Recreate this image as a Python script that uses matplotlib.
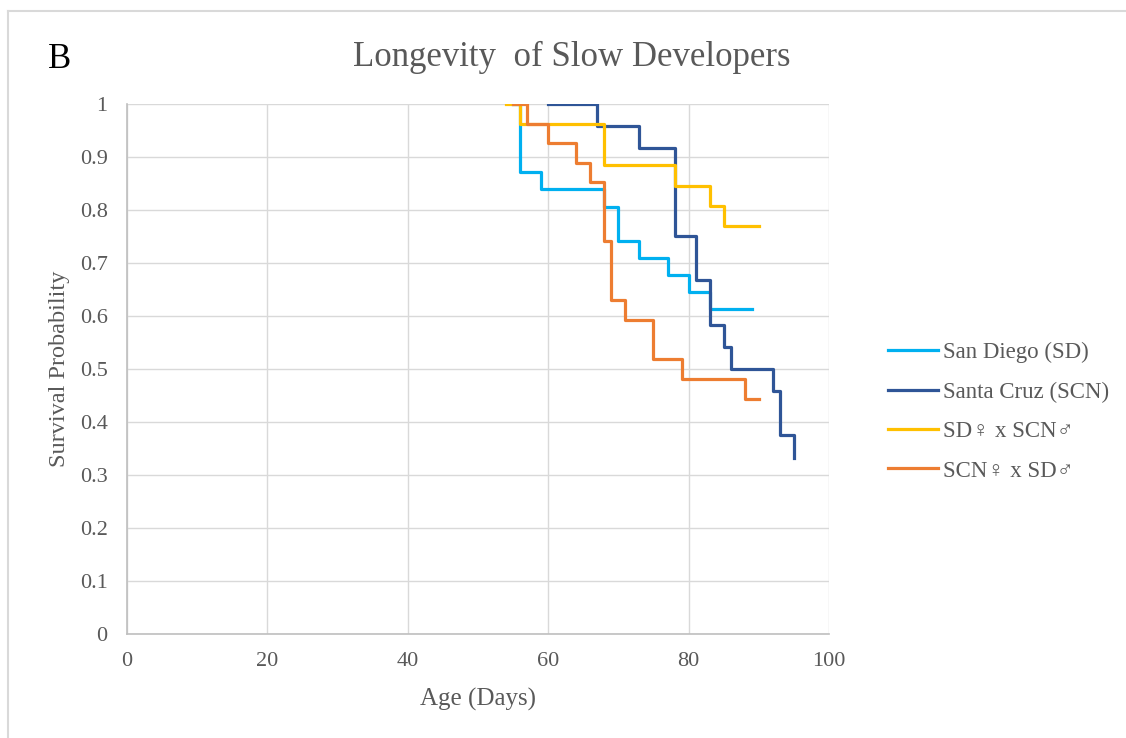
import matplotlib.pyplot as plt
from matplotlib.lines import Line2D

# Kaplan-Meier steps (age in days, survival probability)
sd_days = [55, 56, 59, 68, 70, 73, 77, 80, 83, 89]
sd_surv = [1, 0.871, 0.839, 0.806, 0.742, 0.710, 0.677, 0.645, 0.613, 0.613]

scn_days = [60, 67, 73, 78, 81, 83, 85, 86, 92, 93, 95]
scn_surv = [1, 0.958, 0.917, 0.750, 0.667, 0.583, 0.542, 0.500, 0.458, 0.375, 0.333]

sdf_days = [54, 56, 68, 78, 83, 85, 90]
sdf_surv = [1, 0.962, 0.885, 0.846, 0.808, 0.769, 0.769]

scnf_days = [55, 57, 60, 64, 66, 68, 69, 71, 75, 79, 88, 90]
scnf_surv = [1, 0.963, 0.926, 0.889, 0.852, 0.741, 0.630, 0.593, 0.519, 0.481, 0.444, 0.444]

labels = ['San Diego (SD)', 'Santa Cruz (SCN)', 'SD♀ x SCN♂', 'SCN♀ x SD♂']
colors = ['#00b0f0', '#2f5597', '#ffc000', '#ed7d31']

xticks = [0, 20, 40, 60, 80, 100]
yticks = [0, 0.1, 0.2, 0.3, 0.4, 0.5, 0.6, 0.7, 0.8, 0.9, 1]
ytick_labels = ['0', '0.1', '0.2', '0.3', '0.4', '0.5', '0.6', '0.7', '0.8', '0.9', '1']

plt.rcParams['font.family'] = ['Liberation Serif', 'DejaVu Sans']
grey = '#595959'

fig = plt.figure(figsize=(11.26, 7.38), dpi=100)
ax = fig.add_axes([0.1128, 0.1409, 0.6234, 0.7182])

series = [(sd_days, sd_surv), (scn_days, scn_surv), (sdf_days, sdf_surv), (scnf_days, scnf_surv)]
for (d, s), lab, c in zip(series, labels, colors):
    ax.plot(d, s, drawstyle='steps-post', color=c, lw=2.3, label=lab)

ax.set_xlim(0, 100)
ax.set_ylim(0, 1)
ax.set_xticks(xticks)
ax.set_yticks(yticks)
ax.set_yticklabels(ytick_labels)
ax.grid(True, color='#d9d9d9', lw=1)
ax.set_axisbelow(True)
ax.tick_params(length=0, labelsize=16, colors=grey, pad=13)
ax.tick_params(axis='y', pad=14)
for side in ['top', 'right']:
    ax.spines[side].set_visible(False)
for side in ['left', 'bottom']:
    ax.spines[side].set_color('#bfbfbf')
    ax.spines[side].set_linewidth(1.2)

ax.set_xlabel('Age (Days)', fontsize=18, color=grey, labelpad=12)
ax.set_ylabel('Survival Probability', fontsize=17.5, color=grey, labelpad=7)

fig.text(0.508, 0.922, 'Longevity  of Slow Developers', ha='center', va='center',
         fontsize=25, color=grey)
fig.text(0.043, 0.92, 'B', ha='left', va='center', fontsize=25, color='black')

fig.legend(loc='center left', bbox_to_anchor=(0.77, 0.442), frameon=False,
           fontsize=16.5, handlelength=2.2, handletextpad=0.2, labelspacing=0.8,
           labelcolor=grey)

# outer chart frame (top and left edges)
fig.add_artist(Line2D([8 / 1126, 1], [1 - 10.5 / 738, 1 - 10.5 / 738], color='#d9d9d9', lw=1.5))
fig.add_artist(Line2D([8 / 1126, 8 / 1126], [0, 1 - 10.5 / 738], color='#d9d9d9', lw=1.5))

fig.savefig('out.png', dpi=100)
